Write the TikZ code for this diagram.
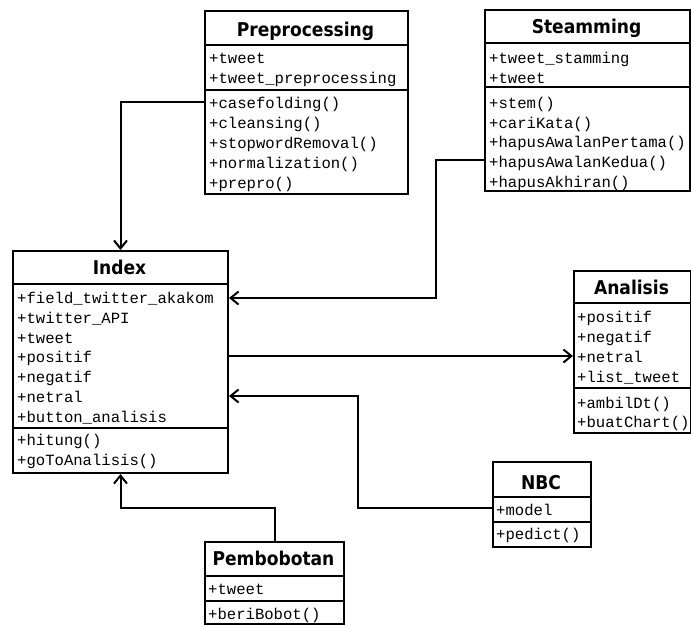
\documentclass[tikz,border=0pt]{standalone}
\usepackage{fontspec}
\usetikzlibrary{arrows.meta}
\newfontfamily\ttlfam{DejaVu Sans Condensed}
\newfontfamily\memfam{Liberation Mono}
\begin{document}
\begin{tikzpicture}[x=1pt,y=-1pt,
  classbox/.style={draw, line width=2pt, anchor=north west, inner sep=0pt, fill=white},
  ttl/.style={font=\ttlfam\bfseries\fontsize{19}{22}\selectfont, anchor=base, inner sep=0pt},
  mem/.style={font=\memfam\fontsize{15.6}{18}\selectfont, anchor=base west, inner sep=0pt},
  sepline/.style={line width=2pt},
  conn/.style={line width=2pt, -{Straight Barb[length=8pt,width=13pt]}}]
\useasboundingbox (0,0) rectangle (691,625);

% Preprocessing
\node[classbox, minimum width=203pt, minimum height=183pt] (pre) at (204,10) {};
\draw[sepline] (204,45) -- (407,45);
\draw[sepline] (204,90) -- (407,90);
\node[ttl] (pre-t) at (305.5,36) {Preprocessing};
\node[mem] (pre-a1) at (209,63.5) {+tweet};
\node[mem] (pre-a2) at (209,83.5) {+tweet\_preprocessing};
\node[mem] (pre-m1) at (209,108.5) {+casefolding()};
\node[mem] (pre-m2) at (209,128.5) {+cleansing()};
\node[mem] (pre-m3) at (209,148.5) {+stopwordRemoval()};
\node[mem] (pre-m4) at (209,168.5) {+normalization()};
\node[mem] (pre-m5) at (209,188.5) {+prepro()};

% Steamming
\node[classbox, minimum width=205pt, minimum height=181pt] (stem) at (484,9) {};
\draw[sepline] (484,43) -- (689,43);
\draw[sepline] (484,87) -- (689,87);
\node[ttl] (stem-t) at (586.5,33.5) {Steamming};
\node[mem] (stem-a1) at (489,63.5) {+tweet\_stamming};
\node[mem] (stem-a2) at (489,83) {+tweet};
\node[mem] (stem-m1) at (489,108) {+stem()};
\node[mem] (stem-m2) at (489,128) {+cariKata()};
\node[mem] (stem-m3) at (489,147.5) {+hapusAwalanPertama()};
\node[mem] (stem-m4) at (489,167.5) {+hapusAwalanKedua()};
\node[mem] (stem-m5) at (489,187.5) {+hapusAkhiran()};

% Index
\node[classbox, minimum width=215pt, minimum height=222pt] (idx) at (12,250) {};
\draw[sepline] (12,284) -- (227,284);
\draw[sepline] (12,428) -- (227,428);
\node[ttl] (idx-t) at (119.5,274.5) {Index};
\node[mem] (idx-a1) at (17,303.5) {+field\_twitter\_akakom};
\node[mem] (idx-a2) at (17,323.5) {+twitter\_API};
\node[mem] (idx-a3) at (17,343.5) {+tweet};
\node[mem] (idx-a4) at (17,362.5) {+positif};
\node[mem] (idx-a5) at (17,382.5) {+negatif};
\node[mem] (idx-a6) at (17,402.5) {+netral};
\node[mem] (idx-a7) at (17,422.5) {+button\_analisis};
\node[mem] (idx-m1) at (17,445.5) {+hitung()};
\node[mem] (idx-m2) at (17,465.5) {+goToAnalisis()};

% Analisis
\node[classbox, minimum width=117pt, minimum height=162pt] (ana) at (573,270) {};
\draw[sepline] (573,303) -- (690,303);
\draw[sepline] (573,388) -- (690,388);
\node[ttl] (ana-t) at (631.5,294) {Analisis};
\node[mem] (ana-a1) at (577,322.5) {+positif};
\node[mem] (ana-a2) at (577,342.5) {+negatif};
\node[mem] (ana-a3) at (577,362.5) {+netral};
\node[mem] (ana-a4) at (577,382.5) {+list\_tweet};
\node[mem] (ana-m1) at (577,408.5) {+ambilDt()};
\node[mem] (ana-m2) at (577,427.5) {+buatChart()};

% NBC
\node[classbox, minimum width=98pt, minimum height=85pt] (nbc) at (492,461) {};
\draw[sepline] (492,497) -- (590,497);
\draw[sepline] (492,522) -- (590,522);
\node[ttl] (nbc-t) at (541,489.5) {NBC};
\node[mem] (nbc-a1) at (496,515.5) {+model};
\node[mem] (nbc-m1) at (496,539.5) {+pedict()};

% Pembobotan
\node[classbox, minimum width=139pt, minimum height=82pt] (pem) at (204,541) {};
\draw[sepline] (204,576) -- (343,576);
\draw[sepline] (204,601) -- (343,601);
\node[ttl] (pem-t) at (273.5,565) {Pembobotan};
\node[mem] (pem-a1) at (208,594.5) {+tweet};
\node[mem] (pem-m1) at (208,619.5) {+beriBobot()};

% connectors
\draw[conn] ([yshift=-92pt]pre.north west) -| (idx.north);
\draw[conn] ([yshift=-151pt]stem.north west) -- ++(-48,0) |- ([yshift=-48pt]idx.north east);
\draw[conn] ([yshift=-106pt]idx.north east) -- ([yshift=-86pt]ana.north west);
\draw[conn] ([yshift=-47pt]nbc.north west) -- ++(-134,0) |- ([yshift=-146pt]idx.north east);
\draw[conn] (pem.north) -- ++(0,-33) -| (idx.south);
\end{tikzpicture}
\end{document}
